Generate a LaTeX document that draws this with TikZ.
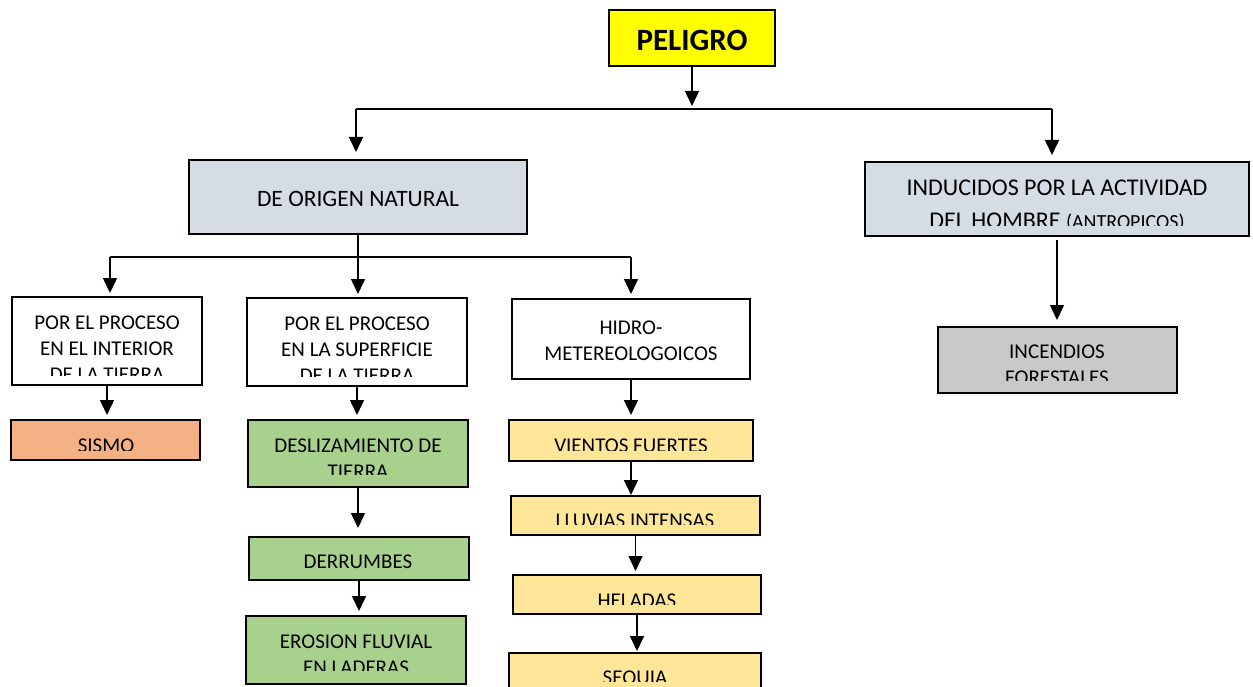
\documentclass[tikz,border=0pt]{standalone}
\usepackage{fontspec}
\setmainfont{Carlito}
\usetikzlibrary{arrows.meta}
\definecolor{cyel}{HTML}{FFFF00}
\definecolor{cblue}{HTML}{D6DCE4}
\definecolor{cgray}{HTML}{C9C9C9}
\definecolor{corange}{HTML}{F4B183}
\definecolor{cgreen}{HTML}{A9D18E}
\definecolor{clyel}{HTML}{FFE699}
\tikzset{
  boxst/.style={draw=black, line width=1.8pt, rectangle, inner sep=0pt, outer sep=0pt, anchor=north west},
  conn/.style={line width=1.5pt},
  barline/.style={line width=2pt},
  arr/.style={conn, -{Triangle[width=14pt,length=15pt]}},
  txts/.style={anchor=base, inner sep=0pt, font=\fontsize{21}{26}\selectfont},
  txtb/.style={anchor=base, inner sep=0pt, font=\fontsize{23.5}{29}\selectfont},
  txtt/.style={anchor=base, inner sep=0pt, font=\fontsize{31}{36}\selectfont\bfseries},
}
\newcommand{\mybox}[6]{\node[boxst, fill=#6, minimum width=#4pt-#2pt, minimum height=#5pt-#3pt] (#1) at (#2,#3) {};}
\begin{document}
\begin{tikzpicture}[x=1pt,y=-1pt]
\useasboundingbox (0,0) rectangle (1253,687);
\clip (0,0) rectangle (1253,687);
\fill[white] (0,0) rectangle (1253,687);

% boxes
\mybox{peligro}{609}{10}{775}{66}{cyel}
\mybox{natural}{189}{160}{527}{234}{cblue}
\mybox{antro}{865}{162}{1249}{236}{cblue}
\mybox{incendios}{938}{327}{1177}{393}{cgray}
\mybox{box1}{12}{297}{202}{385}{white}
\mybox{box2}{247}{298}{467}{386}{white}
\mybox{box3}{512}{299}{750}{379}{white}
\mybox{sismo}{11}{420}{200}{460}{corange}
\mybox{desliz}{248}{420}{468}{487}{cgreen}
\mybox{derrumbes}{249}{537}{469}{580}{cgreen}
\mybox{erosion}{246}{616}{466}{684}{cgreen}
\mybox{vientos}{509}{420}{753}{461}{clyel}
\mybox{lluvias}{511}{496}{760}{535}{clyel}
\mybox{heladas}{513}{575}{761}{614}{clyel}
\mybox{sequia}{509}{653}{761}{700}{clyel}

% texts
\node[txtt] (t-peligro) at (692,51) {PELIGRO};
\node[txtb] (t-natural) at (358,207) {DE ORIGEN NATURAL};
\begin{scope}
\clip (865,162) rectangle (1249,226);
\node[txtb, font=\fontsize{24}{29}\selectfont] (t-antro1) at (1057,196) {INDUCIDOS POR LA ACTIVIDAD};
\node[txtb, font=\fontsize{24}{29}\selectfont] (t-antro2) at (1057,229) {DEL HOMBRE {\fontsize{20}{24}\selectfont(ANTROPICOS)}};
\end{scope}
\begin{scope}
\clip (938,327) rectangle (1177,380);
\node[txts] (t-inc1) at (1057,358) {INCENDIOS};
\node[txts] (t-inc2) at (1057,384) {FORESTALES};
\end{scope}
\begin{scope}
\clip (12,297) rectangle (202,375);
\node[txts] (t-b1a) at (107,329) {POR EL PROCESO};
\node[txts] (t-b1b) at (107,355) {EN EL INTERIOR};
\node[txts] (t-b1c) at (107,381) {DE LA TIERRA};
\end{scope}
\begin{scope}
\clip (247,298) rectangle (467,376);
\node[txts] (t-b2a) at (357,330) {POR EL PROCESO};
\node[txts] (t-b2b) at (357,356) {EN LA SUPERFICIE};
\node[txts] (t-b2c) at (357,382) {DE LA TIERRA};
\end{scope}
\node[txts] (t-b3a) at (631,334) {HIDRO-};
\node[txts] (t-b3b) at (631,360) {METEREOLOGOICOS};
\begin{scope}
\clip (11,420) rectangle (200,450);
\node[txts] (t-sismo) at (106,452) {SISMO};
\end{scope}
\begin{scope}
\clip (248,420) rectangle (468,474);
\node[txts] (t-desliz1) at (358,452) {DESLIZAMIENTO DE};
\node[txts] (t-desliz2) at (358,478) {TIERRA};
\end{scope}
\node[txts] (t-derr) at (358,568) {DERRUMBES};
\begin{scope}
\clip (246,616) rectangle (466,670);
\node[txts] (t-eros1) at (356,648) {EROSION FLUVIAL};
\node[txts] (t-eros2) at (356,674) {EN LADERAS};
\end{scope}
\begin{scope}
\clip (509,420) rectangle (753,450.5);
\node[txts] (t-vien) at (631,452) {VIENTOS FUERTES};
\end{scope}
\begin{scope}
\clip (511,496) rectangle (760,524);
\node[txts] (t-lluv) at (635,527) {LLUVIAS INTENSAS};
\end{scope}
\begin{scope}
\clip (513,575) rectangle (761,604);
\node[txts] (t-hel) at (637,607) {HELADAS};
\end{scope}
\begin{scope}
\clip (509,653) rectangle (761,681);
\node[txts] (t-seq) at (635,684) {SEQUIA};
\end{scope}

% connectors level 0
\coordinate (j0) at (692,109);
\coordinate (j0L) at (356,109);
\coordinate (j0R) at (1052,109);
\draw[arr, shorten >=3pt] (peligro.south) -- (j0);
\draw[barline] (j0L) -- (j0R);
\draw[arr, shorten >=8pt] (j0L) -- (j0L |- natural.north);
\draw[arr, shorten >=7pt] (j0R) -- (j0R |- antro.north);

% level 1
\coordinate (j1L) at (110,257);
\coordinate (j1R) at (631,257);
\draw[barline] (j1L) -- (j1R);
\draw[arr, shorten >=4pt] (natural.south) -- (natural.south |- box2.north);
\draw[arr, shorten >=4pt] (j1L) -- (j1L |- box1.north);
\draw[arr, shorten >=5pt] (j1R) -- (j1R |- box3.north);

% right branch
\draw[arr, shorten <=4pt, shorten >=7pt] (antro.south) -- (antro.south |- incendios.north);

% column 1
\draw[arr, shorten >=5pt] (box1.south) -- (box1.south |- sismo.north);
% column 2
\draw[arr, shorten >=5pt] (box2.south) -- (box2.south |- desliz.north);
\draw[arr, shorten >=9pt] (desliz.south) -- (desliz.south |- derrumbes.north);
\draw[arr, shorten >=5pt] (derrumbes.south) -- (derrumbes.south |- erosion.north);
% column 3
\draw[arr, shorten >=5pt] (box3.south) -- (box3.south |- vientos.north);
\draw[arr, shorten >=1pt] (vientos.south) -- (vientos.south |- lluvias.north);
\draw[arr, shorten >=4pt] (lluvias.south) -- (lluvias.south |- heladas.north);
\draw[arr, shorten >=2pt] (heladas.south) -- (heladas.south |- sequia.north);
\end{tikzpicture}
\end{document}
